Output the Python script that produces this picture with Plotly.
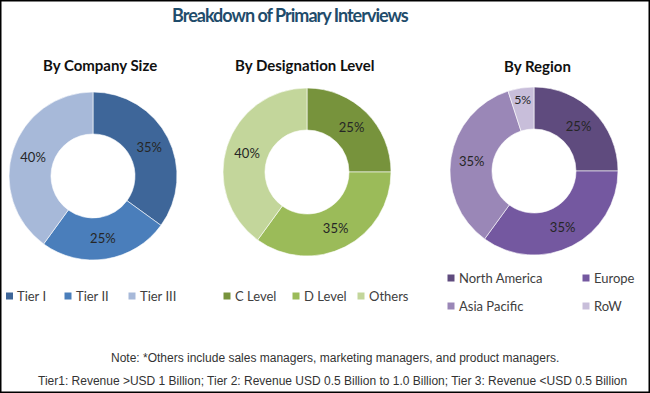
import plotly.graph_objects as go

W, H = 650, 393

title_text = "Breakdown of Primary Interviews"
subtitles = ["By Company Size", "By Designation Level", "By Region"]

size_labels = ["Tier I", "Tier II", "Tier III"]
size_values = [35, 25, 40]
size_colors = ["#3E6699", "#4A7EBB", "#A7B9D9"]

desig_labels = ["C Level", "D Level", "Others"]
desig_values = [25, 35, 40]
desig_colors = ["#77933C", "#9BBB59", "#C3D69B"]

region_labels = ["North America", "Europe", "Asia Pacific", "RoW"]
region_values = [25, 35, 35, 5]
region_colors = ["#5F4B7E", "#7458A0", "#9A87B7", "#C8BEDA"]

notes = [
    "Note: *Others include sales managers, marketing managers, and product managers.",
    "Tier1: Revenue >USD 1 Billion; Tier 2: Revenue USD 0.5 Billion to 1.0 Billion; Tier 3: Revenue <USD 0.5 Billion",
]

# ---- layout geometry (pixels) ----
pie_centers = [(93, 176), (307, 172), (534, 171)]
pie_radius = 84
subtitle_pos = [(100, 65), (305, 65), (537, 66)]
legend_pos = [
    [(9.5, 296), (68, 296), (132, 296)],
    [(227, 296), (296, 296), (361, 296)],
    [(451, 278), (586, 278), (451, 306), (586, 306)],
]
note_pos = [(335, 358), (332, 381)]

def px(x):
    return x / W

def py(y):
    return 1 - y / H

LABEL_FONT = "Lato, Calibri, Carlito, Open Sans, sans-serif"

fig = go.Figure()
groups = [
    (size_labels, size_values, size_colors),
    (desig_labels, desig_values, desig_colors),
    (region_labels, region_values, region_colors),
]
for (labels, values, colors), (cx, cy) in zip(groups, pie_centers):
    fig.add_trace(go.Pie(
        labels=labels,
        values=values,
        hole=0.5,
        sort=False,
        direction="clockwise",
        rotation=0,
        marker=dict(colors=colors, line=dict(color="white", width=0.6)),
        texttemplate="%{value}%",
        textposition="inside",
        insidetextorientation="horizontal",
        textfont=dict(family=LABEL_FONT, size=13, color="#262626"),
        domain=dict(x=[px(cx - pie_radius), px(cx + pie_radius)],
                    y=[py(cy + pie_radius), py(cy - pie_radius)]),
        showlegend=False,
        hoverinfo="label+percent",
    ))

annotations = []
shapes = []

# Title
annotations.append(dict(
    x=px(290), y=py(15), xref="paper", yref="paper", showarrow=False,
    text=f'<span style="letter-spacing:-1px"><b>{title_text}</b></span>',
    xanchor="center", yanchor="middle",
    font=dict(family="Lato, sans-serif", size=18, color="#1F4C6B"),
))

# Subtitles
for t, (x, y) in zip(subtitles, subtitle_pos):
    annotations.append(dict(
        x=px(x), y=py(y), xref="paper", yref="paper", showarrow=False,
        text=f"<b>{t}</b>", xanchor="center", yanchor="middle",
        font=dict(family=LABEL_FONT, size=15, color="#111111"),
    ))

# Legends
sq = 7
for (labels, _, colors), positions in zip(groups, legend_pos):
    for lab, col, (x, y) in zip(labels, colors, positions):
        shapes.append(dict(
            type="rect", xref="paper", yref="paper",
            x0=px(x - sq / 2), x1=px(x + sq / 2),
            y0=py(y + sq / 2), y1=py(y - sq / 2),
            fillcolor=col, line=dict(width=0),
        ))
        annotations.append(dict(
            x=px(x + sq / 2 + 2), y=py(y), xref="paper", yref="paper", showarrow=False,
            text=lab, xanchor="left", yanchor="middle",
            font=dict(family=LABEL_FONT, size=13, color="#404040"),
        ))

# Notes
for t, (x, y) in zip(notes, note_pos):
    annotations.append(dict(
        x=px(x), y=py(y), xref="paper", yref="paper", showarrow=False,
        text=t, xanchor="center", yanchor="middle",
        font=dict(family="Liberation Sans, Arial, sans-serif", size=12, color="#333333"),
    ))

# Outer border
shapes.append(dict(type="rect", xref="paper", yref="paper", x0=0, x1=1, y0=0, y1=1,
                   line=dict(color="#000000", width=3), fillcolor="rgba(0,0,0,0)"))

fig.update_layout(
    width=W, height=H,
    margin=dict(l=0, r=0, t=0, b=0),
    paper_bgcolor="white", plot_bgcolor="white",
    annotations=annotations, shapes=shapes,
    showlegend=False,
)

fig.write_html(
    "out.html",
    config={"displayModeBar": False},
    post_script="document.body.style.margin='0';document.body.style.overflow='hidden';",
)
